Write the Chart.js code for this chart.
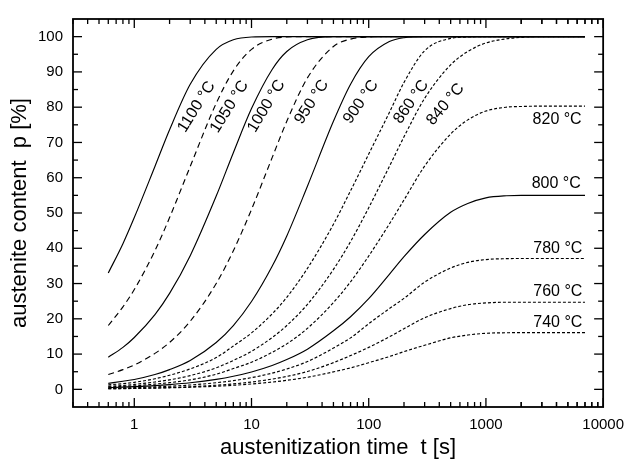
<!DOCTYPE html>
<html><head><meta charset="utf-8">
<script src="https://cdn.jsdelivr.net/npm/chart.js@4/dist/chart.umd.min.js"></script>
<style>html,body{margin:0;padding:0;background:#fff}#c{display:block}</style>
</head><body>
<canvas id="c" width="633" height="461"></canvas>
<script>
// ---- data ----
const times = [0.6, 0.8, 1, 1.5, 2, 3, 5, 7, 10, 15, 20, 30, 50, 70, 100, 150, 200, 300, 500, 700, 1000, 1500, 2000, 3000, 7000];
const p1100 = [33.0, 41.3, 48.7, 63.2, 73.6, 86.5, 96.4, 99.1, 99.9, 100, 100, 100, 100, 100, 100, 100, 100, 100, 100, 100, 100, 100, 100, 100, 100];
const p1050 = [18.1, 23.4, 28.3, 39.3, 48.7, 63.2, 81.1, 90.3, 96.4, 99.3, 99.9, 100, 100, 100, 100, 100, 100, 100, 100, 100, 100, 100, 100, 100, 100];
const p1000 = [9.1, 11.9, 14.7, 21.2, 27.2, 37.9, 54.8, 67.1, 79.6, 90.7, 95.8, 99.1, 100, 100, 100, 100, 100, 100, 100, 100, 100, 100, 100, 100, 100];
const p950  = [4.2, 5.6, 6.9, 10.2, 13.3, 19.3, 30.0, 39.3, 51.0, 65.7, 76.0, 88.3, 97.2, 99.3, 99.9, 100, 100, 100, 100, 100, 100, 100, 100, 100, 100];
const p900  = [1.7, 2.3, 2.8, 4.2, 5.6, 8.2, 13.3, 18.1, 24.9, 34.9, 43.5, 57.6, 76.0, 86.5, 94.3, 98.6, 99.7, 100, 100, 100, 100, 100, 100, 100, 100];
const p860  = [1.3, 1.6, 2.0, 3.0, 4.0, 5.8, 9.0, 12.3, 16.0, 21.4, 26.1, 34.3, 46.8, 56.3, 66.7, 78.5, 87.0, 96.0, 99.5, 99.9, 100, 100, 100, 100, 100];
const p840  = [0.9, 1.1, 1.4, 2.1, 2.7, 3.9, 6.1, 8.2, 10.8, 14.7, 18.1, 24.1, 34.0, 41.9, 51.5, 63.2, 71.6, 82.5, 92.0, 95.8, 98.2, 99.4, 99.8, 100, 100];
const p820  = [0.7, 0.85, 1.0, 1.5, 1.9, 2.7, 4.3, 5.9, 7.7, 10.5, 12.9, 17.3, 24.6, 30.5, 37.8, 46.9, 53.7, 63.3, 72.4, 76.4, 78.9, 80.0, 80.2, 80.3, 80.3];
const p800  = [0.5, 0.63, 0.76, 1.05, 1.34, 1.87, 2.83, 3.71, 4.93, 6.78, 8.45, 11.4, 16.6, 20.6, 25.7, 32.6, 37.6, 43.9, 50.2, 52.7, 54.3, 54.9, 55.0, 55.0, 55.0];
const p780  = [0.32, 0.40, 0.49, 0.69, 0.88, 1.23, 1.88, 2.48, 3.32, 4.6, 5.77, 7.88, 11.7, 14.6, 18.6, 22.9, 25.8, 30.4, 34.4, 36.0, 36.8, 37.05, 37.1, 37.1, 37.1];
const p760  = [0.19, 0.24, 0.29, 0.42, 0.53, 0.75, 1.17, 1.55, 2.08, 2.91, 3.67, 5.06, 7.57, 9.58, 11.9, 14.9, 17.2, 20.3, 22.9, 24.0, 24.5, 24.7, 24.7, 24.7, 24.7];
const p740  = [0.17, 0.21, 0.25, 0.35, 0.44, 0.60, 0.89, 1.16, 1.53, 2.07, 2.56, 3.43, 4.96, 6.09, 7.56, 9.3, 10.7, 12.5, 14.6, 15.4, 15.9, 16.05, 16.1, 16.1, 16.1];

const seriesNames = ['1100 °C', '1050 °C', '1000 °C', '950 °C', '900 °C', '860 °C', '840 °C', '820 °C', '800 °C', '780 °C', '760 °C', '740 °C'];
const seriesValues = [p1100, p1050, p1000, p950, p900, p860, p840, p820, p800, p780, p760, p740];
const seriesStyle = ['solid', 'dashed', 'solid', 'dashed', 'solid', 'dotted', 'dotted', 'dotted', 'solid', 'dotted', 'dotted', 'dotted'];

const xTickValues = [1, 10, 100, 1000, 10000];
const xMinorMultiples = [2, 3, 4, 5, 6, 7, 8, 9];
const yTickValues = [0, 10, 20, 30, 40, 50, 60, 70, 80, 90, 100];
const yMinorValues = [5, 15, 25, 35, 45, 55, 65, 75, 85, 95];

// label anchors in data space (t, p) and rotation in degrees
const labelAnchors = [
  {t: 3.40, p: 80.1, rot: -58},
  {t: 6.49, p: 80.1, rot: -58},
  {t: 13.4, p: 80.3, rot: -59},
  {t: 32.6, p: 81.5, rot: -57},
  {t: 85.7, p: 81.5, rot: -55},
  {t: 230,  p: 81.5, rot: -55},
  {t: 452,  p: 80.8, rot: -50},
  {t: 4050, p: 76.4, rot: 0},
  {t: 3975, p: 58.2, rot: 0},
  {t: 4105, p: 39.9, rot: 0},
  {t: 4105, p: 27.8, rot: 0},
  {t: 4105, p: 18.9, rot: 0}
];

const FONT = "'Liberation Sans', Arial, Helvetica, sans-serif";
const dashes = {solid: [], dashed: [6, 4], dotted: [3, 2]};

const datasets = seriesValues.map((vals, i) => ({
  label: seriesNames[i],
  data: times.map((t, k) => ({x: t, y: vals[k]})),
  borderColor: '#000',
  borderWidth: 1.15,
  borderDash: dashes[seriesStyle[i]],
  pointRadius: 0,
  fill: false,
  cubicInterpolationMode: 'monotone'
}));

const framePlugin = {
  id: 'frame',
  afterDraw(chart) {
    const {ctx, chartArea: a, scales: {x, y}} = chart;
    ctx.save();
    ctx.strokeStyle = '#000';
    const seg = (x1, y1, x2, y2) => { ctx.beginPath(); ctx.moveTo(x1, y1); ctx.lineTo(x2, y2); ctx.stroke(); };
    ctx.lineWidth = 1.3;
    xTickValues.forEach(v => {
      const px = x.getPixelForValue(v);
      seg(px, a.bottom, px, a.bottom - 9); seg(px, a.top, px, a.top + 9);
      xMinorMultiples.forEach(m => {
        const mv = v * m / 10;
        if (mv < x.min || mv > x.max) return;
        const mp = x.getPixelForValue(mv);
        seg(mp, a.bottom, mp, a.bottom - 5); seg(mp, a.top, mp, a.top + 5);
      });
    });
    xMinorMultiples.forEach(m => {
      const mv = m * 1000;
      const mp = x.getPixelForValue(mv);
      seg(mp, a.bottom, mp, a.bottom - 5); seg(mp, a.top, mp, a.top + 5);
    });
    yTickValues.forEach(v => {
      const py = y.getPixelForValue(v);
      seg(a.left, py, a.left + 9, py); seg(a.right, py, a.right - 9, py);
    });
    yMinorValues.forEach(v => {
      const py = y.getPixelForValue(v);
      seg(a.left, py, a.left + 5, py); seg(a.right, py, a.right - 5, py);
    });
    ctx.lineWidth = 1.8;
    ctx.strokeRect(a.left, a.top, a.right - a.left, a.bottom - a.top);
    ctx.restore();
  }
};

const labelPlugin = {
  id: 'curveLabels',
  afterDatasetsDraw(chart) {
    const {ctx, scales: {x, y}} = chart;
    ctx.save();
    ctx.fillStyle = '#000';
    ctx.font = '16px ' + FONT;
    ctx.textBaseline = 'middle';
    ctx.textAlign = 'center';
    labelAnchors.forEach((l, i) => {
      ctx.save();
      ctx.translate(x.getPixelForValue(l.t), y.getPixelForValue(l.p));
      ctx.rotate(l.rot * Math.PI / 180);
      ctx.fillText(seriesNames[i], 0, 0);
      ctx.restore();
    });
    ctx.restore();
  }
};

new Chart(document.getElementById('c'), {
  type: 'line',
  data: {datasets},
  plugins: [framePlugin, labelPlugin],
  options: {
    responsive: false,
    animation: false,
    layout: {padding: {left: 0, right: 24, top: 14, bottom: 0}},
    plugins: {legend: {display: false}, tooltip: {enabled: false}},
    scales: {
      x: {
        type: 'logarithmic', min: 0.3, max: 10000, position: 'bottom',
        grid: {display: false, drawTicks: false}, border: {display: false},
        afterBuildTicks: s => { s.ticks = xTickValues.map(v => ({value: v, major: true})); },
        afterFit: s => { s.height = 54; },
        ticks: {color: '#000', font: {family: FONT, size: 15}, padding: 9, maxRotation: 0, autoSkip: false,
                callback: v => String(v)},
        title: {display: true, text: 'austenitization time  t [s]', color: '#000',
                font: {family: FONT, size: 22}, padding: {top: 0, bottom: 0}}
      },
      y: {
        type: 'linear', min: -5, max: 105, position: 'left',
        grid: {display: false, drawTicks: false}, border: {display: false},
        afterBuildTicks: s => { s.ticks = yTickValues.map(v => ({value: v})); },
        afterFit: s => { s.width = 73; },
        ticks: {color: '#000', font: {family: FONT, size: 15}, padding: 10, autoSkip: false,
                callback: v => String(v)},
        title: {display: true, text: 'austenite content  p [%]', color: '#000',
                font: {family: FONT, size: 22}, padding: {top: 7, bottom: 0}}
      }
    }
  }
});
</script>
</body></html>
